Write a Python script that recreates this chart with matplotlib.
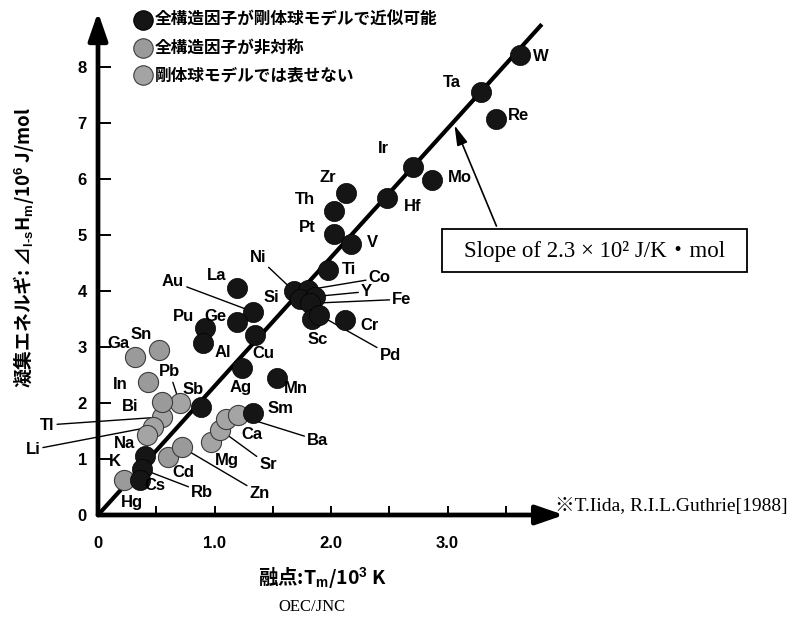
import matplotlib
matplotlib.use('Agg')
import matplotlib.pyplot as plt
from matplotlib.patches import Rectangle

plt.rcParams['font.family'] = ['Liberation Sans', 'Noto Sans CJK JP', 'DejaVu Sans']
plt.rcParams['mathtext.fontset'] = 'custom'
plt.rcParams['mathtext.rm'] = 'Liberation Sans:bold'
plt.rcParams['mathtext.bf'] = 'Liberation Sans:bold'
plt.rcParams['mathtext.it'] = 'Liberation Sans:bold'
plt.rcParams['mathtext.default'] = 'bf'

# ---- data: melting point Tm (10^3 K) and cohesive energy per element ----
hs_names = ['W', 'Ta', 'Re', 'Mo', 'Ir', 'Hf', 'Zr', 'Th', 'Pt', 'V', 'Ti',
            'Ni', 'Co', 'Si', 'Y', 'Fe', 'Sc', 'Pd', 'Cr', 'La', 'Au', 'Ge',
            'Cu', 'Pu', 'Al', 'Ag', 'Mn', 'Sb', 'Sm', 'K', 'Rb', 'Cs']
hs_tm = [3.62, 3.29, 3.42, 2.87, 2.70, 2.48, 2.13, 2.03, 2.03, 2.17, 1.97,
         1.68, 1.80, 1.73, 1.86, 1.82, 1.84, 1.90, 2.12, 1.19, 1.33, 1.19,
         1.35, 0.92, 0.90, 1.24, 1.54, 0.88, 1.33, 0.40, 0.38, 0.36]
hs_dh = [8.21, 7.55, 7.07, 5.98, 6.21, 5.66, 5.75, 5.43, 5.02, 4.84, 4.38,
         4.00, 4.02, 3.85, 3.90, 3.78, 3.50, 3.57, 3.48, 4.05, 3.63, 3.45,
         3.21, 3.34, 3.07, 2.62, 2.44, 1.93, 1.82, 1.06, 0.82, 0.62]

asym_names = ['Ga', 'Sn', 'In', 'Bi', 'Hg', 'Cd', 'Zn']
asym_tm = [0.32, 0.52, 0.43, 0.55, 0.22, 0.60, 0.72]
asym_dh = [2.82, 2.95, 2.38, 2.02, 0.62, 1.04, 1.21]

nonhs_names = ['Pb', 'Tl', 'Li', 'Na', 'Mg', 'Sr', 'Ca', 'Ba']
nonhs_tm = [0.70, 0.55, 0.47, 0.42, 0.97, 1.05, 1.10, 1.20]
nonhs_dh = [2.00, 1.75, 1.58, 1.42, 1.30, 1.52, 1.72, 1.78]

slope = 2.3          # x10^2 J/K·mol
fit_tm_max = 3.81

legend_texts = ['全構造因子が剛体球モデルで近似可能',
                '全構造因子が非対称',
                '剛体球モデルでは表せない']

x_ticks = [0, 0.5, 1.0, 1.5, 2.0, 2.5, 3.0, 3.5]
x_ticklabels = ['0', '', '1.0', '', '2.0', '', '3.0', '']
y_ticks = [0, 1, 2, 3, 4, 5, 6, 7, 8]

# label placement: offset (px right, px up) from the marker, leader line flag
label_pos = {
    'W': (21, -1, 0), 'Ta': (-29, 10, 0), 'Re': (22, 4, 0), 'Mo': (28, 3, 0),
    'Ir': (-29, 19, 0), 'Hf': (26, -8, 0), 'Zr': (-18, 16, 0),
    'Th': (-30, 11, 0), 'Pt': (-27, 6, 0), 'V': (22, 1, 0), 'Ti': (21, 0, 0),
    'Ni': (-36, 34, 1), 'Co': (72, 12, 1), 'Y': (52, 5, 1), 'Fe': (92, 4, 1),
    'Si': (-28, 2, 0), 'Sc': (5, -21, 0), 'Pd': (71, -40, 1), 'Cr': (25, -5, 0),
    'La': (-20, 13, 0), 'Au': (-80, 30, 1), 'Ge': (-21, 5, 0), 'Cu': (8, -18, 0),
    'Pu': (-22, 11, 0), 'Al': (20, -9, 0), 'Ag': (-2, -19, 0), 'Mn': (18, -10, 0),
    'Sb': (-7, 17, 0), 'Sm': (28, 5, 0), 'K': (-30, -6, 0), 'Rb': (60, -23, 1),
    'Cs': (15, -5, 0), 'Ga': (-17, 14, 0), 'Sn': (-17, 15, 0), 'In': (-28, -3, 0),
    'Bi': (-32, -5, 0), 'Hg': (8, -22, 0), 'Cd': (15, -16, 0), 'Zn': (78, -46, 1),
    'Pb': (-10, 31, 1), 'Tl': (-115, -8, 1), 'Li': (-120, -23, 1),
    'Na': (-22, -8, 0), 'Mg': (16, -18, 0), 'Sr': (48, -35, 1), 'Ca': (26, -16, 0),
    'Ba': (80, -25, 1),
}

W, H = 800, 619
fig = plt.figure(figsize=(W / 100, H / 100), dpi=100)
ax = fig.add_axes([98 / W, 104 / H, 466 / W, 504 / H])
ax.set_xlim(0, 4.0)
ax.set_ylim(0, 9.0)
for s in ax.spines.values():
    s.set_visible(False)
ax.patch.set_visible(False)

# axes drawn as thick arrows
arrow_style = '-|>,head_length=1.3,head_width=0.45'
ax.annotate('', xy=(0, 8.98), xytext=(0, 0),
            arrowprops=dict(arrowstyle=arrow_style, lw=3.4, color='k',
                            mutation_scale=13, shrinkA=0, shrinkB=0),
            annotation_clip=False)
ax.annotate('', xy=(4.0, 0), xytext=(0, 0),
            arrowprops=dict(arrowstyle=arrow_style, lw=3.4, color='k',
                            mutation_scale=13, shrinkA=0, shrinkB=0),
            annotation_clip=False)

ax.set_xticks(x_ticks)
ax.set_xticklabels(x_ticklabels)
ax.set_yticks(y_ticks)
ax.set_yticklabels([str(v) for v in y_ticks])
ax.tick_params(axis='x', direction='in', length=6.5, width=1.4, pad=15,
               labelsize=12)
ax.tick_params(axis='y', direction='in', length=9, width=1.4, pad=8,
               labelsize=12)
for lab in ax.get_xticklabels() + ax.get_yticklabels():
    lab.set_fontweight('bold')

# fitted line through the origin
ax.plot([0, fit_tm_max], [0, slope * fit_tm_max], color='k', lw=3.0,
        solid_capstyle='butt', zorder=3)

msize = 210
ax.scatter(nonhs_tm, nonhs_dh, s=msize, color='#a4a4a4', edgecolors='#3c3c3c',
           linewidths=0.8, zorder=4)
ax.scatter(asym_tm, asym_dh, s=msize, color='#9a9a9a', edgecolors='#3c3c3c',
           linewidths=0.8, zorder=4)
ax.scatter(hs_tm, hs_dh, s=msize, color='#151515', edgecolors='#000000',
           linewidths=0.5, zorder=5)

all_points = {}
for names, xs, ys in ((hs_names, hs_tm, hs_dh), (asym_names, asym_tm, asym_dh),
                      (nonhs_names, nonhs_tm, nonhs_dh)):
    for n, x, y in zip(names, xs, ys):
        all_points[n] = (x, y)

px2pt = 0.72
for n, (x, y) in all_points.items():
    dx, dy, lead = label_pos[n]
    off = (dx * px2pt, dy * px2pt)
    if lead:
        ax.annotate(n, xy=(x, y), xytext=off, textcoords='offset points',
                    ha='center', va='center', fontsize=12, fontweight='bold',
                    color='none', zorder=2,
                    arrowprops=dict(arrowstyle='-', color='k', lw=1.0,
                                    shrinkA=0, shrinkB=0),
                    annotation_clip=False)
    ax.annotate(n, xy=(x, y), xytext=off, textcoords='offset points',
                ha='center', va='center', fontsize=12, fontweight='bold',
                color='k', zorder=6, annotation_clip=False)

# slope annotation
ax.annotate('', xy=(3.06, 6.96), xytext=(3.42, 5.16),
            arrowprops=dict(arrowstyle='-|>,head_length=1.1,head_width=0.3',
                            lw=1.2, color='k', mutation_scale=11,
                            shrinkA=0, shrinkB=0),
            annotation_clip=False)
fig.patches.append(Rectangle((442 / W, 1 - 272 / H), 305 / W, 43 / H,
                             transform=fig.transFigure, fill=True,
                             facecolor='white', edgecolor='k', lw=1.3))
fig.text(595 / W, 1 - 251 / H, 'Slope of 2.3 × 10² J/K・mol',
         family=['Liberation Serif', 'Noto Sans CJK JP'], fontsize=16.5,
         ha='center', va='center')

# legend
legend_styles = [('#151515', '#000000'), ('#9a9a9a', '#3c3c3c'),
                 ('#a4a4a4', '#3c3c3c')]
for i, (txt, (fc, ec)) in enumerate(zip(legend_texts, legend_styles)):
    yy = 1 - (20 + 27.5 * i) / H
    fig.add_artist(plt.Line2D([143 / W], [yy], marker='o', markersize=14,
                              markerfacecolor=fc, markeredgecolor=ec,
                              markeredgewidth=0.8, transform=fig.transFigure))
    fig.text(155 / W, yy, txt, family=['Noto Sans CJK JP', 'DejaVu Sans'],
             fontsize=12, fontweight='bold', ha='left', va='center')

# axis titles and notes
fig.text(24 / W, 1 - 247 / H,
         '凝集エネルギ: ⊿$_{l\\text{-}s}$H$_m$/10$^6$ J/mol',
         family=['Noto Sans CJK JP', 'DejaVu Sans'], fontsize=13.5,
         fontweight='bold', rotation=90, ha='center', va='center')
fig.text(322 / W, 1 - 577 / H, '融点:T$_m$/10$^3$ K',
         family=['Noto Sans CJK JP', 'DejaVu Sans'], fontsize=14,
         fontweight='bold', ha='center', va='center')
fig.text(312 / W, 1 - 607 / H, 'OEC/JNC', family=['Liberation Serif'],
         fontsize=12, ha='center', va='center')
fig.text(555 / W, 1 - 507 / H, '※T.Iida, R.I.L.Guthrie[1988]',
         family=['Liberation Serif', 'Noto Sans CJK JP'], fontsize=14,
         ha='left', va='center')

fig.savefig('out.png', dpi=100)
